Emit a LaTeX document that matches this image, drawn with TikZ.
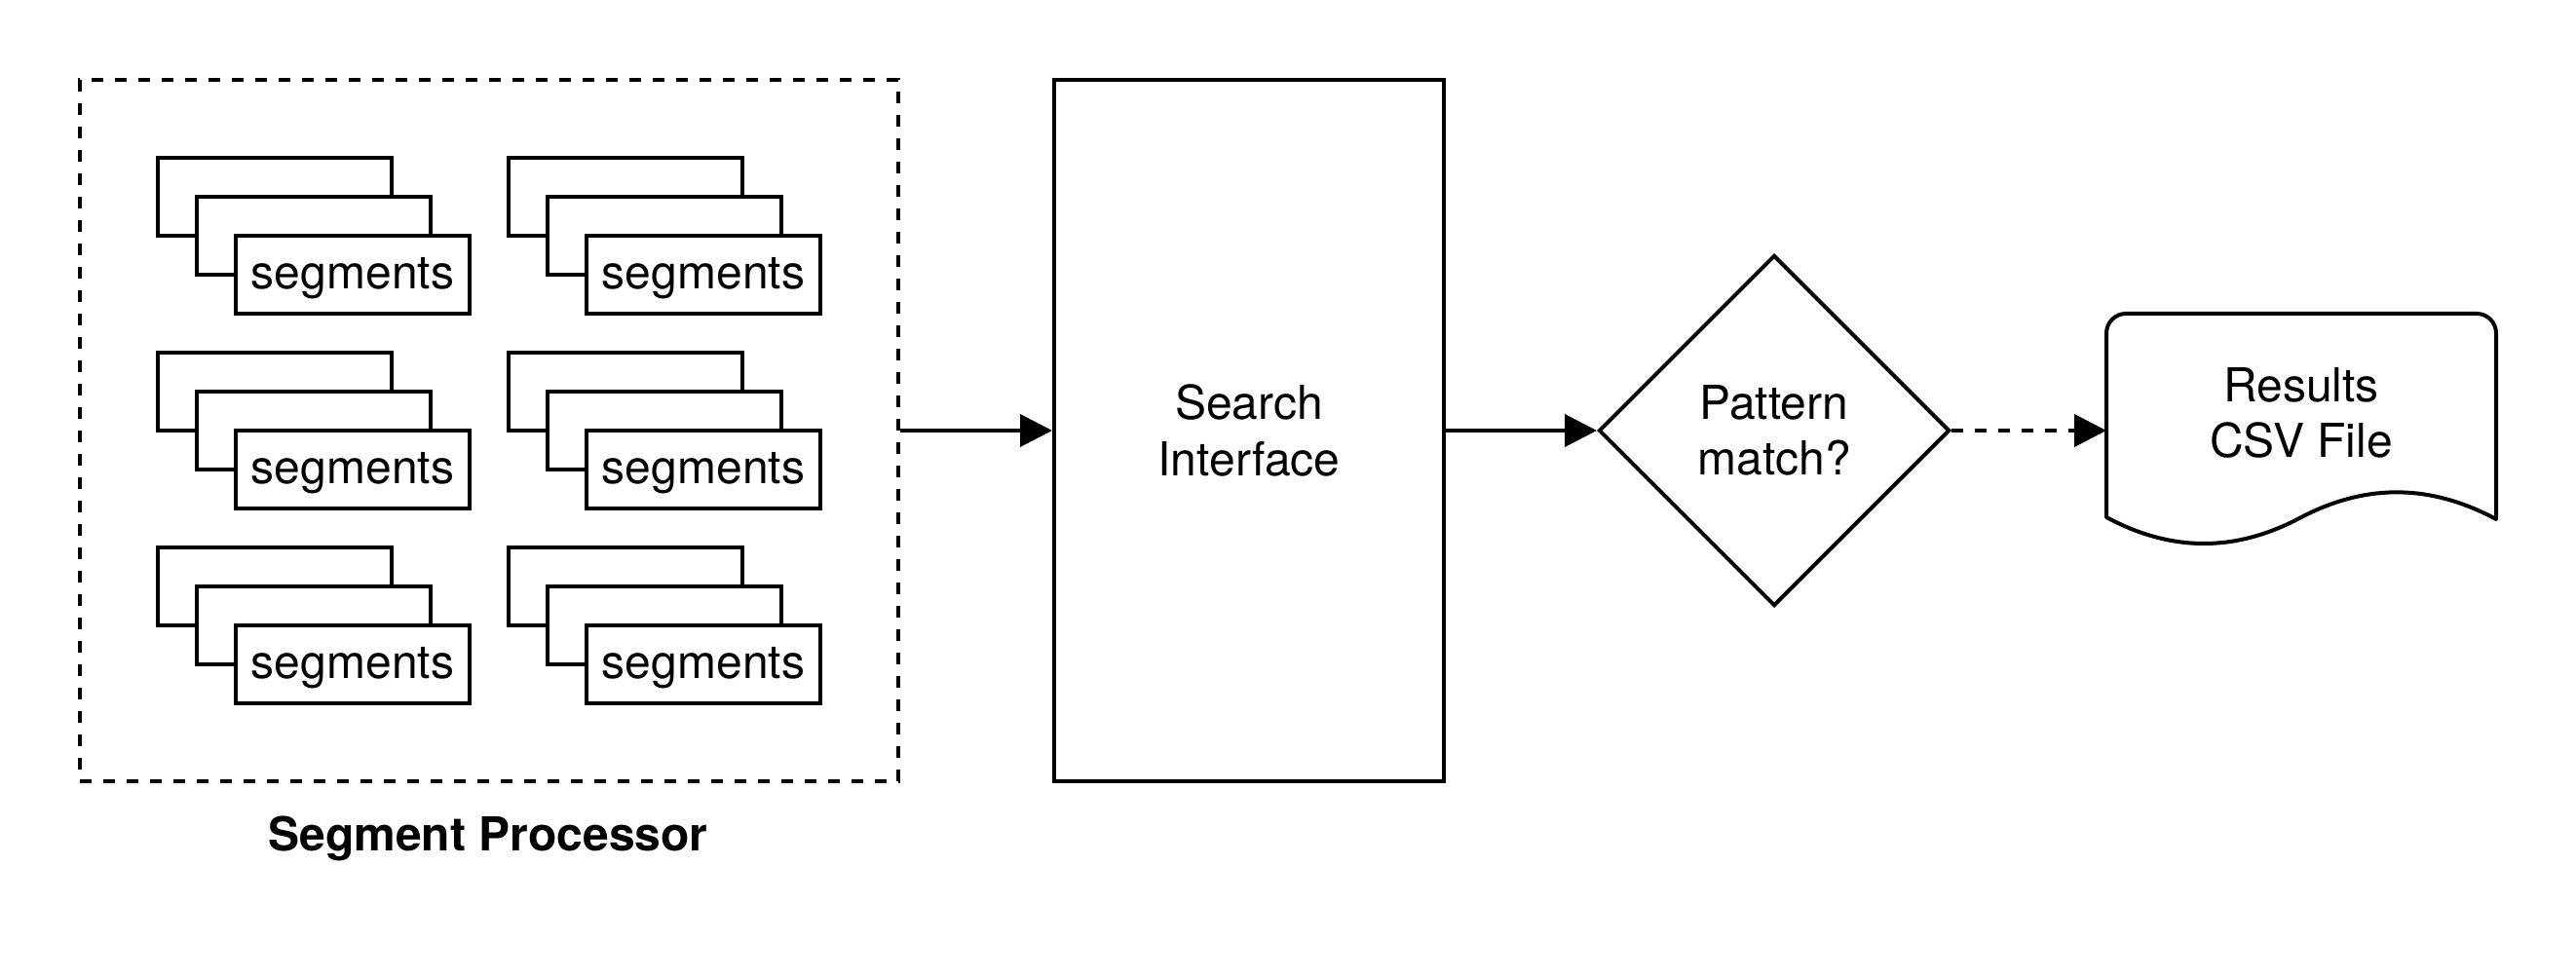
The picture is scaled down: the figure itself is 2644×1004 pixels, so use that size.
\documentclass[tikz,border=0pt]{standalone}
\usepackage{fontspec}
\setmainfont{TeX Gyre Heros}
\usetikzlibrary{arrows.meta,shapes.geometric}
\tikzset{
  ln/.style={line width=2pt},
  seg/.style={ln, draw, fill=white, minimum width=120pt, minimum height=40pt, inner sep=0pt},
  box/.style={ln, draw, fill=white, inner sep=0pt},
  dsh/.style={dash pattern=on 6pt off 6pt},
  txt/.style={font=\fontsize{24}{28.8}\selectfont, align=center},
  arr/.style={ln, -{Triangle[length=16.5pt,width=16.5pt]}}
}
\begin{document}
\begin{tikzpicture}[x=0.5pt, y=-0.5pt, txt]
\useasboundingbox (0,0) rectangle (2644,1004);
% container
\node[box, dsh, fill=none, minimum width=420pt, minimum height=360pt] (proc) at (502,442) {};
\node[font=\fontsize{24}{28.8}\selectfont\bfseries] (proclabel) at (501,861) {Segment Processor};
% stacks
\foreach \c/\x in {1/162, 2/522} {
  \foreach \r/\y in {1/162, 2/362, 3/562} {
    \node[seg] (b\c\r) at (\x+120, \y+40) {};
    \node[seg] (m\c\r) at (\x+160, \y+80) {};
    \node[seg, text depth=0pt] (f\c\r) at (\x+200, \y+120) {};
    \node at ([yshift=-2pt]f\c\r.center) (t\c\r) {segments};
  }
}
% search interface
\node[box, minimum width=200pt, minimum height=360pt] (search) at (1282,442) {Search\\Interface};
% decision
\node[box, shape=diamond, aspect=1, minimum width=180pt, minimum height=180pt] (pm) at (1821,442) {Pattern\\match?};
% document
\draw[ln, line join=round] (2162,531) -- (2162,342) .. controls (2162,331) and (2171,322) .. (2182,322)
  -- (2542,322) .. controls (2553,322) and (2562,331) .. (2562,342)
  -- (2562,533) .. controls (2495,497) and (2429,496) .. (2362,531)
  .. controls (2295,567) and (2229,567) .. (2162,531) -- cycle;
\node (doc) at (2362,424) {Results\\CSV File};
\coordinate (docin) at (2162,442);
% connectors
\draw[arr] (proc.east) -- (search.west);
\draw[arr] (search.east) -- (pm.west);
\draw[arr, dsh] (pm.east) -- (docin);
\end{tikzpicture}
\end{document}
